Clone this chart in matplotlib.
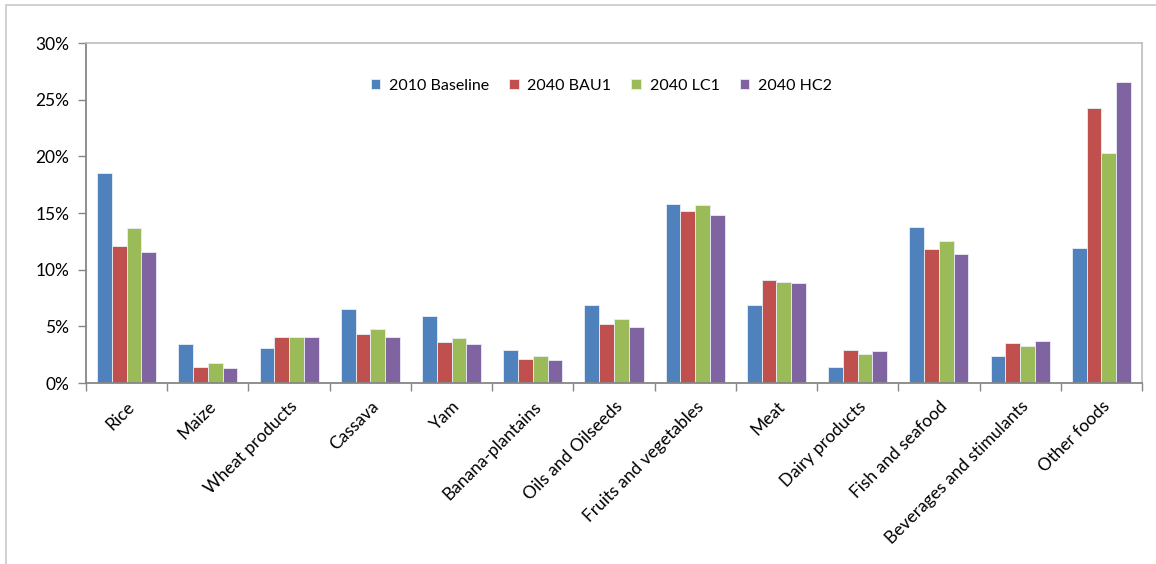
import numpy as np
import matplotlib
matplotlib.use("Agg")
import matplotlib.pyplot as plt
from matplotlib.patches import Rectangle
from matplotlib.ticker import FuncFormatter, FixedLocator

plt.rcParams['font.family'] = ['Lato', 'DejaVu Sans']

categories = ["Rice", "Maize", "Wheat products", "Cassava", "Yam", "Banana-plantains",
              "Oils and Oilseeds", "Fruits and vegetables", "Meat", "Dairy products",
              "Fish and seafood", "Beverages and stimulants", "Other foods"]
series_names = ["2010 Baseline", "2040 BAU1", "2040 LC1", "2040 HC2"]
baseline_2010 = [18.5, 3.45, 3.1, 6.5, 5.95, 2.9, 6.85, 15.8, 6.9, 1.4, 13.8, 2.35, 11.9]
bau1_2040 = [12.05, 1.4, 4.1, 4.3, 3.6, 2.15, 5.2, 15.15, 9.1, 2.9, 11.8, 3.55, 24.3]
lc1_2040 = [13.7, 1.75, 4.05, 4.8, 3.95, 2.35, 5.65, 15.75, 8.95, 2.55, 12.55, 3.25, 20.3]
hc2_2040 = [11.55, 1.3, 4.05, 4.1, 3.45, 2.05, 4.95, 14.8, 8.8, 2.85, 11.35, 3.7, 26.6]
colors = ["#4F81BD", "#C0504D", "#9BBB59", "#8064A2"]

W, H = 1156, 564
fig = plt.figure(figsize=(W / 100, H / 100), dpi=100)

# outer chart frame
fig.patches.append(Rectangle((6 / W, -0.1), 1.2, (H - 5) / H + 0.1, transform=fig.transFigure,
                             fill=False, edgecolor="#C8C8C8", linewidth=1.2))

left, right, top, bottom = 86, 1142, 43, 383
ax = fig.add_axes([left / W, 1 - bottom / H, (right - left) / W, (bottom - top) / H])

data = [baseline_2010, bau1_2040, lc1_2040, hc2_2040]
n = len(categories)
x = np.arange(n)
bw = 1 / 5.5
for i, (vals, c, name) in enumerate(zip(data, colors, series_names)):
    ax.bar(x + (i - 1.5) * bw, vals, width=bw, color=c, edgecolor="#E8EEF5",
           linewidth=0.6, label=name, zorder=2)

ax.set_xlim(-0.5, n - 0.5)
ax.set_ylim(0, 30)
ax.set_yticks(np.arange(0, 31, 5))
ax.yaxis.set_major_formatter(FuncFormatter(lambda v, p: f"{v:.0f}%"))
ax.tick_params(axis="y", length=6, width=1, color="#868686", labelsize=12.5, pad=6,
               labelcolor="black")

# category ticks sit on group boundaries, labels at centers
ax.xaxis.set_major_locator(FixedLocator(np.arange(-0.5, n, 1.0)))
ax.xaxis.set_major_formatter(FuncFormatter(lambda v, p: ""))
ax.xaxis.set_minor_locator(FixedLocator(x))
ax.set_xticklabels(categories, minor=True, rotation=45, ha="right",
                   rotation_mode="anchor", fontsize=12.5)
ax.tick_params(axis="x", which="major", length=6, width=1, color="#868686")
ax.tick_params(axis="x", which="minor", length=0, pad=11)

for s in ["left", "bottom"]:
    ax.spines[s].set_color("#868686")
    ax.spines[s].set_linewidth(1.3)
for s in ["top", "right"]:
    ax.spines[s].set_color("#BEBEBE")
    ax.spines[s].set_linewidth(1.2)

ax.legend(loc="center", bbox_to_anchor=(0.488, 0.874), ncol=4, frameon=False,
          fontsize=11.5, handlelength=0.6, handleheight=0.6, handletextpad=0.55,
          columnspacing=1.25)

fig.savefig("out.png", dpi=100)
